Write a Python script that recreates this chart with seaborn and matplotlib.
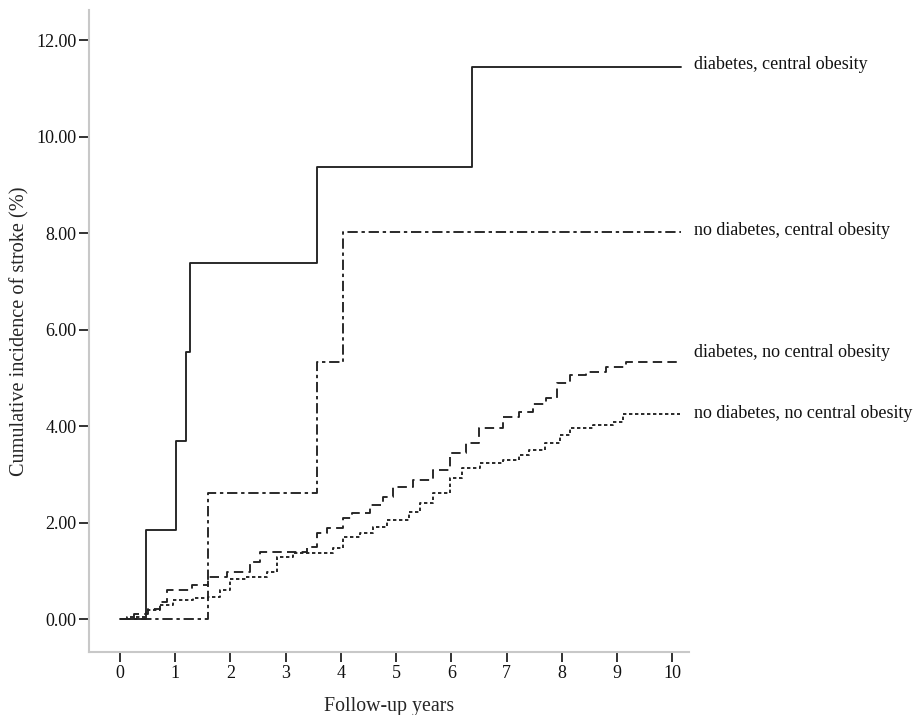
import pandas as pd
import numpy as np
import matplotlib
matplotlib.use("Agg")
import matplotlib.pyplot as plt
import seaborn as sns

# Step curves (years, cumulative incidence %)
dm_co_t = [0, 0.47, 1.02, 1.19, 1.27, 3.56, 6.38, 10.16]
dm_co_v = [0, 1.84, 3.69, 5.54, 7.39, 9.37, 11.45, 11.45]

nodm_co_t = [0, 1.59, 3.56, 4.04, 10.16]
nodm_co_v = [0, 2.61, 5.33, 8.03, 8.03]

dm_noco_t = [0, 0.25, 0.5, 0.72, 0.85, 1.3, 1.6, 1.93, 2.35, 2.53, 3.38, 3.56, 3.74,
             4.03, 4.2, 4.52, 4.76, 4.94, 5.3, 5.66, 5.97, 6.27, 6.5, 6.93, 7.23,
             7.47, 7.72, 7.92, 8.14, 8.44, 8.8, 9.17, 10.13]
dm_noco_v = [0, 0.1, 0.2, 0.35, 0.6, 0.7, 0.87, 0.97, 1.18, 1.39, 1.5, 1.78, 1.89,
             2.1, 2.2, 2.37, 2.53, 2.74, 2.88, 3.09, 3.44, 3.65, 3.96, 4.19, 4.3,
             4.45, 4.59, 4.9, 5.06, 5.12, 5.23, 5.33, 5.33]

nodm_noco_t = [0, 0.12, 0.48, 0.72, 0.96, 1.32, 1.59, 1.81, 1.99, 2.29, 2.66, 2.84,
               3.13, 3.85, 4.03, 4.34, 4.58, 4.83, 5.24, 5.43, 5.66, 5.97, 6.2, 6.51,
               6.93, 7.23, 7.41, 7.7, 7.96, 8.14, 8.56, 8.92, 9.1, 10.13]
nodm_noco_v = [0, 0.05, 0.19, 0.29, 0.39, 0.43, 0.46, 0.6, 0.83, 0.87, 0.97, 1.29,
               1.37, 1.47, 1.7, 1.78, 1.91, 2.05, 2.22, 2.41, 2.61, 2.92, 3.13, 3.24,
               3.3, 3.4, 3.5, 3.65, 3.82, 3.96, 4.02, 4.09, 4.25, 4.25]

groups = ["diabetes, central obesity", "no diabetes, central obesity",
          "diabetes, no central obesity", "no diabetes, no central obesity"]
label_offset = [0.04, 0.02, 0.19, 0.02]

x_ticks = list(range(0, 11))
y_ticks = [0, 2, 4, 6, 8, 10, 12]

series = [(dm_co_t, dm_co_v), (nodm_co_t, nodm_co_v),
          (dm_noco_t, dm_noco_v), (nodm_noco_t, nodm_noco_v)]
frames = []
for g, (t, v) in zip(groups, series):
    frames.append(pd.DataFrame({"years": t, "incidence": v, "group": g}))
df = pd.concat(frames, ignore_index=True)

sns.set_style("ticks")
plt.rcParams["font.family"] = ["Liberation Serif", "DejaVu Serif"]

fig = plt.figure(figsize=(9.21, 7.15), dpi=100)
ax = fig.add_axes([0.0966, 0.088, 0.652, 0.898])

line_dashes = {groups[0]: "", groups[1]: (5.5, 2, 1.8, 2),
               groups[2]: (5, 2.8), groups[3]: (1.8, 1.4)}
sns.lineplot(data=df, x="years", y="incidence", style="group", style_order=groups,
             dashes=line_dashes, color="#222222", linewidth=1.35,
             drawstyle="steps-post", estimator=None, legend=False, ax=ax)

# labels at the right end of each curve
for g, (t, v), off in zip(groups, series, label_offset):
    ax.text(10.4, v[-1] + off, g, va="center", ha="left", fontsize=13,
            color="#111111", clip_on=False)

ax.set_xlim(-0.56, 10.31)
ax.set_ylim(-0.685, 12.63)
ax.set_xticks(x_ticks)
ax.set_yticks(y_ticks)
ax.set_yticklabels([f"{y:.2f}" for y in y_ticks])
ax.set_xlabel("Follow-up years", fontsize=14.3, labelpad=11)
ax.set_ylabel("Cumulative incidence of stroke (%)", fontsize=14.6, labelpad=5)
ax.tick_params(axis="both", direction="out", length=7, width=1.3, color="#222222",
               labelsize=13, labelcolor="#111111", pad=2)

sns.despine(ax=ax, top=True, right=True)
for s in ["left", "bottom"]:
    ax.spines[s].set_color("#c8c8c8")
    ax.spines[s].set_linewidth(1.5)

fig.savefig("out.png", dpi=100)
